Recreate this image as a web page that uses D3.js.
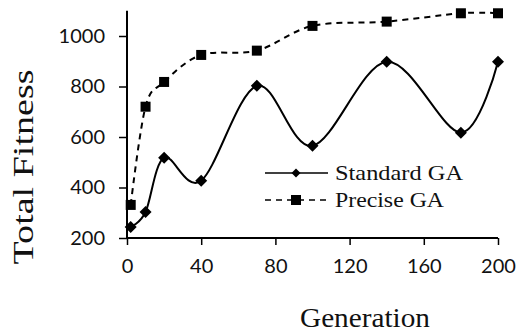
<!DOCTYPE html>
<html><head><meta charset="utf-8">
<script src="https://cdn.jsdelivr.net/npm/d3@7"></script>
<style>html,body{margin:0;padding:0;background:#fff;}svg{display:block;}</style>
</head><body>
<svg id="chart" width="519" height="334"></svg>
<script>
const generations = [2, 10, 20, 40, 70, 100, 140, 180, 200];
const standardGA = [244, 303, 518, 427, 803, 565, 898, 617, 898];
const preciseGA = [331, 720, 818, 925, 942, 1040, 1057, 1090, 1090];
const xTicks = [0, 40, 80, 120, 160, 200];
const yTicks = [200, 400, 600, 800, 1000];
const seriesNames = ["Standard GA", "Precise GA"];

const svg = d3.select("#chart");
const x = d3.scaleLinear().domain([0, 200]).range([127, 498]);
const y = d3.scaleLinear().domain([200, 1000]).range([238, 36]);
const yTop = y(1100);
const tickFont = "Lato, 'Open Sans', sans-serif";
const serif = "'Liberation Serif', 'DejaVu Serif', serif";

// axes
const yAxis = svg.append("g").attr("transform", `translate(${x(0)},0)`)
  .call(d3.axisLeft(y).tickValues(yTicks).tickSize(8).tickPadding(14).tickFormat(d3.format("d")));
yAxis.select(".domain").attr("d", `M0,${yTop}V${y(200)}`);
const xAxis = svg.append("g").attr("transform", `translate(0,${y(200)})`)
  .call(d3.axisBottom(x).tickValues(xTicks).tickSize(7).tickPadding(14).tickFormat(d3.format("d")));
xAxis.select(".domain").attr("d", `M${x(0)},0H${x(200)}`);
svg.selectAll(".domain").attr("stroke", "#000").attr("stroke-width", 2);
svg.selectAll(".tick line").attr("stroke", "#000").attr("stroke-width", 1.5);
svg.selectAll(".tick text").attr("font-family", tickFont).attr("font-size", 20).attr("fill", "#111");

// lines
const curve = d3.curveCatmullRom.alpha(0);
const lineGen = vals => d3.line().curve(curve).x((d, i) => x(generations[i])).y(d => y(d))(vals);

svg.append("path").attr("d", lineGen(preciseGA)).attr("fill", "none")
  .attr("stroke", "#000").attr("stroke-width", 2).attr("stroke-dasharray", "6,5");
svg.append("path").attr("d", lineGen(standardGA)).attr("fill", "none")
  .attr("stroke", "#000").attr("stroke-width", 2);

const diamond = (cx, cy, r) => `M${cx},${cy - r}L${cx + r},${cy}L${cx},${cy + r}L${cx - r},${cy}Z`;

svg.append("g").selectAll("rect").data(preciseGA).join("rect")
  .attr("x", (d, i) => x(generations[i]) - 5).attr("y", d => y(d) - 5)
  .attr("width", 10).attr("height", 10).attr("fill", "#000");
svg.append("g").selectAll("path").data(standardGA).join("path")
  .attr("d", (d, i) => diamond(x(generations[i]), y(d), 6)).attr("fill", "#000");

// legend
const lg = svg.append("g");
lg.append("line").attr("x1", 265).attr("x2", 328).attr("y1", 173).attr("y2", 173)
  .attr("stroke", "#000").attr("stroke-width", 1.5);
lg.append("path").attr("d", diamond(296, 173, 4.5)).attr("fill", "#000");
lg.append("line").attr("x1", 265).attr("x2", 328).attr("y1", 200).attr("y2", 200)
  .attr("stroke", "#000").attr("stroke-width", 1.5).attr("stroke-dasharray", "6,5");
lg.append("rect").attr("x", 291).attr("y", 195).attr("width", 10).attr("height", 10).attr("fill", "#000");
lg.selectAll("text").data(seriesNames).join("text")
  .attr("x", 335).attr("y", (d, i) => 180 + i * 27)
  .attr("font-family", serif).attr("font-size", 21).attr("fill", "#111")
  .attr("textLength", (d, i) => i === 0 ? 128 : 109).attr("lengthAdjust", "spacingAndGlyphs")
  .text(d => d);

// axis titles
svg.append("text").attr("x", 365).attr("y", 327).attr("text-anchor", "middle")
  .attr("font-family", serif).attr("font-size", 27).attr("fill", "#111")
  .attr("textLength", 130).attr("lengthAdjust", "spacingAndGlyphs").text("Generation");
svg.append("text").attr("transform", "translate(33,167) rotate(-90)").attr("text-anchor", "middle")
  .attr("font-family", serif).attr("font-size", 29).attr("fill", "#111")
  .attr("textLength", 195).attr("lengthAdjust", "spacingAndGlyphs").text("Total Fitness");
</script>
</body></html>
